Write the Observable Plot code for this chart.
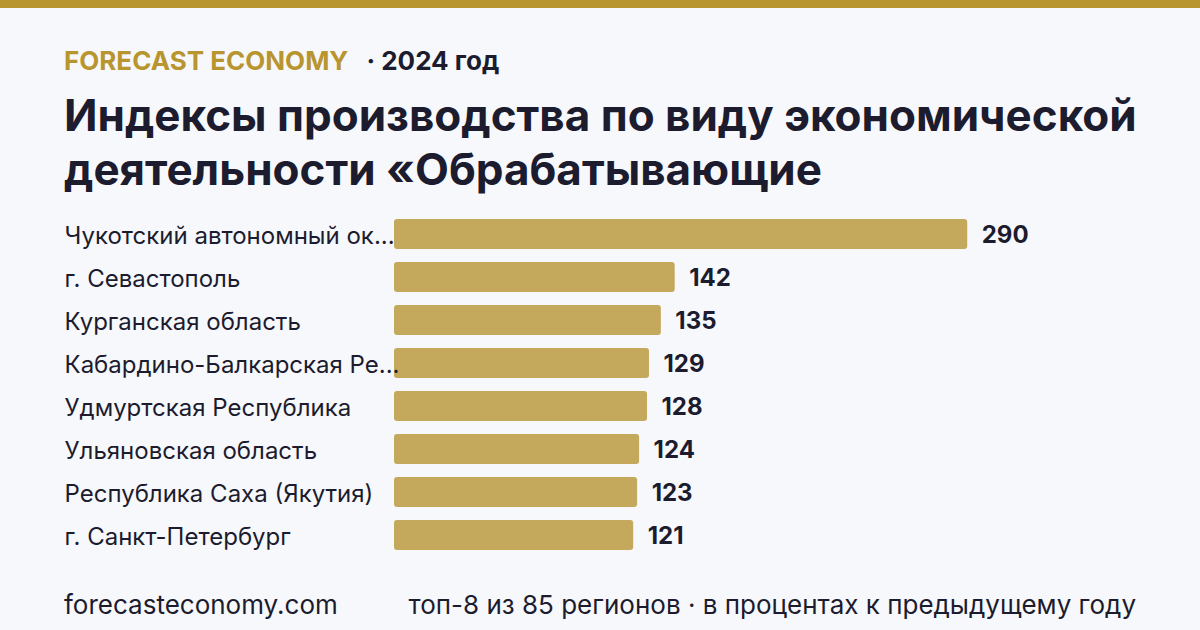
<!DOCTYPE html>
<html>
<head>
<meta charset="utf-8">
<script src="https://cdn.jsdelivr.net/npm/d3@7"></script>
<script src="https://cdn.jsdelivr.net/npm/@observablehq/plot@0.6"></script>
<style>
  html, body { margin: 0; padding: 0; }
  body { width: 1200px; height: 630px; background: #f7f8fc; font-family: Inter, "Noto Sans", sans-serif; position: relative; overflow: hidden; color: #1c1c2e; }
  .topbar { position: absolute; left: 0; top: 0; width: 1200px; height: 8px; background: #b8952f; }
  .brand { position: absolute; left: 64px; top: 43px; font-size: 26px; font-weight: 700; white-space: nowrap; line-height: 36px; }
  .brand .b { color: #b8952f; }
  .brand .y { color: #1c1c2e; margin-left: 18px; }
  .title { position: absolute; left: 64px; top: 88px; width: 1100px; font-size: 44px; font-weight: 700; line-height: 54px; letter-spacing: 0; white-space: nowrap; }
  #chart { position: absolute; left: 0; top: 206px; }
  .foot { position: absolute; top: 588px; font-size: 26px; line-height: 34px; white-space: nowrap; color: #1c1c2e; }
  .foot.l { left: 64px; }
  .foot.r { right: 64px; }
</style>
</head>
<body>
<div class="topbar"></div>
<div class="brand"><span class="b">FORECAST ECONOMY</span><span class="y">· 2024 год</span></div>
<div class="title">Индексы производства по виду экономической<br>деятельности «Обрабатывающие</div>
<div id="chart"></div>
<div class="foot l">forecasteconomy.com</div>
<div class="foot r">топ-8 из 85 регионов · в процентах к предыдущему году</div>
<script>
const regions = [
  "Чукотский автономный ок...",
  "г. Севастополь",
  "Курганская область",
  "Кабардино-Балкарская Ре...",
  "Удмуртская Республика",
  "Ульяновская область",
  "Республика Саха (Якутия)",
  "г. Санкт-Петербург"
];
const values = [290, 142, 135, 129, 128, 124, 123, 121];

const data = regions.map((name, i) => ({name, value: values[i]}));

const chart = Plot.plot({
  width: 1200,
  height: 357,
  marginLeft: 394,
  marginRight: 213,
  marginTop: 0,
  marginBottom: 0,
  style: {background: "transparent", fontFamily: "Inter, 'Noto Sans', sans-serif", overflow: "visible"},
  x: {domain: [0, 300], axis: null},
  y: {domain: regions, axis: null, padding: 0.3},
  marks: [
    Plot.barX(data, {x: "value", y: "name", fill: "#c4a85c", rx: 3}),
    Plot.text(data, {y: "name", text: "name", frameAnchor: "left", textAnchor: "start", dx: -330, dy: 2, fontSize: 24, fill: "#1c1c2e"}),
    Plot.text(data, {x: "value", y: "name", text: d => String(d.value), textAnchor: "start", dx: 14, dy: 1, fontSize: 24, fontWeight: 700, fill: "#1c1c2e"})
  ]
});
document.getElementById("chart").appendChild(chart);
</script>
</body>
</html>
